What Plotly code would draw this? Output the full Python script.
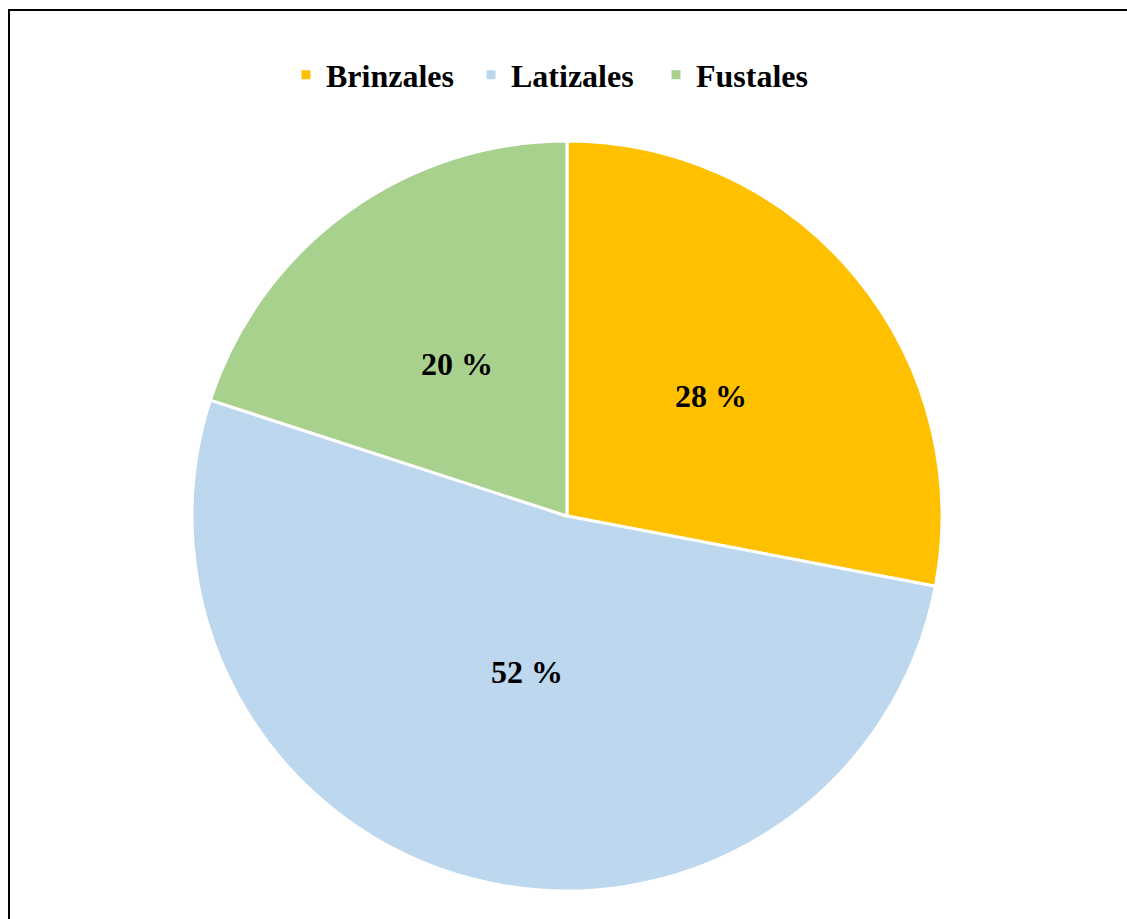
import math
import plotly.graph_objects as go

categories = ["Brinzales", "Latizales", "Fustales"]
percentages = [28, 52, 20]
colors = ["#FFC000", "#BDD7EE", "#A9D18E"]
label_radius = [0.5, 0.43, 0.5]  # label distance from centre, as a fraction of the radius

W, H = 1127, 919
cx, cy, R = 567, 516, 375

fig = go.Figure(
    go.Pie(
        labels=categories,
        values=percentages,
        sort=False,
        direction="clockwise",
        rotation=0,
        marker=dict(colors=colors, line=dict(color="white", width=3)),
        textinfo="none",
        domain=dict(x=[(cx - R) / W, (cx + R) / W], y=[1 - (cy + R) / H, 1 - (cy - R) / H]),
        hoverinfo="label+percent",
    )
)

# Percentage labels placed at the middle angle of each slice
total = sum(percentages)
annotations = []
cum = 0
for val, frac in zip(percentages, label_radius):
    mid = (cum + val / 2) / total * 2 * math.pi
    cum += val
    px = cx + frac * R * math.sin(mid)
    py = cy - frac * R * math.cos(mid)
    annotations.append(dict(
        x=px / W, y=1 - py / H, xref="paper", yref="paper",
        text=f"{val} %", showarrow=False,
        font=dict(family="Liberation Serif", size=32, color="black", weight="bold"),
        xanchor="center", yanchor="middle",
    ))

fig.update_layout(
    width=W,
    height=H,
    margin=dict(l=0, r=0, t=0, b=0),
    paper_bgcolor="white",
    font=dict(family="Liberation Serif", color="black"),
    legend=dict(
        orientation="h",
        x=0.5,
        xanchor="center",
        y=1 - 75 / H,
        yanchor="middle",
        entrywidth=140,
        font=dict(family="Liberation Serif", size=32, color="black", weight="bold"),
        itemclick=False,
    ),
    annotations=annotations,
    shapes=[
        dict(
            type="rect", xref="paper", yref="paper",
            x0=9 / W, x1=1.02, y0=-0.02, y1=1 - 10 / H,
            line=dict(color="black", width=2),
        )
    ],
)

fig.write_html("out.html")
